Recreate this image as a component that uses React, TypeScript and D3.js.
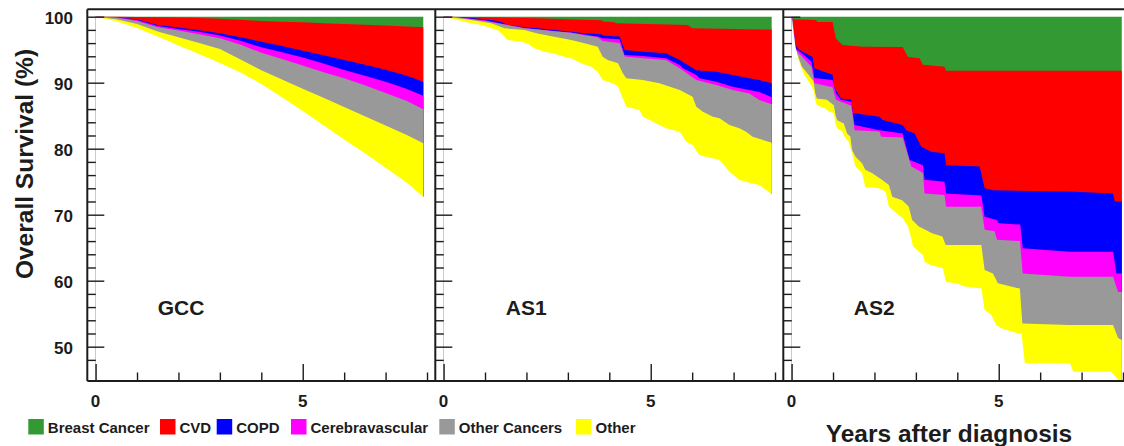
import React, { useEffect, useRef } from "react";
import * as d3 from "d3";

const panelNames = ["GCC", "AS1", "AS2"];
const causeNames = ["Breast Cancer", "CVD", "COPD", "Cerebravascular", "Other Cancers", "Other"];
const causeColors = ["#339933", "#ff0000", "#0000ff", "#ff00ff", "#999999", "#ffff00"];
const yTicks = [50, 60, 70, 80, 90, 100];
const xTicks = [0, 5];

// GCC: lower edge of each band (%), smooth curves
const gccYears = [0, 0.5, 1, 1.5, 2, 2.5, 3, 3.5, 4, 4.5, 5, 5.5, 6, 6.5, 7, 7.5, 7.91];
const gccBreast = [100, 99.99, 99.97, 99.93, 99.87, 99.8, 99.7, 99.55, 99.35, 99.25, 99.15, 99.02, 98.9, 98.78, 98.65, 98.5, 98.39];
const gccCvd = [100, 99.93, 99.6, 98.75, 98.35, 97.95, 97.5, 96.9, 96.2, 95.55, 94.85, 94.15, 93.44, 92.7, 91.95, 91.1, 90.15];
const gccCopd = [100, 99.9, 99.5, 98.6, 98.15, 97.7, 97.15, 96.35, 95.36, 94.6, 93.8, 92.9, 91.92, 91.05, 90.15, 89.1, 88.03];
const gccCere = [100, 99.85, 99.35, 98.4, 97.9, 97.35, 96.75, 95.75, 94.55, 93.6, 92.6, 91.6, 90.66, 89.6, 88.45, 87.25, 85.97];
const gccOtherCa = [100, 99.6, 98.9, 97.75, 96.9, 96.0, 95.1, 93.5, 91.9, 90.5, 89.1, 87.7, 86.3, 84.9, 83.5, 82.1, 80.82];
const gccOther = [100, 99.3, 98.3, 97.0, 95.65, 94.35, 93.0, 91.55, 89.8, 87.8, 85.7, 83.55, 81.4, 79.3, 77.1, 74.9, 72.73];

// AS1: [years, %] lower edge of each band
const as1Breast = [[0, 100], [0.5, 99.97], [1.0, 99.92], [2.0, 99.8], [2.27, 99.75], [3.0, 99.6], [3.8, 99.45], [3.88, 99.25], [4.1, 99.2], [4.17, 99.0], [5.9, 98.75], [6.0, 98.25], [7.92, 98.05]];
const as1Cvd = [[0, 100], [0.3, 99.97], [0.67, 99.8], [1.0, 99.6], [1.31, 99.35], [1.47, 99.0], [1.55, 98.74], [1.95, 98.39], [2.27, 98.24], [2.67, 97.98], [3.08, 97.73], [3.4, 97.48], [3.8, 97.33], [3.88, 97.1], [4.25, 96.98], [4.37, 94.96], [4.81, 94.7], [5.37, 94.45], [5.45, 94.2], [5.7, 93.44], [6.1, 91.9], [6.58, 91.67], [6.98, 91.17], [7.38, 90.66], [7.62, 90.4], [7.92, 89.9]];
const as1Copd = [[0, 100], [0.3, 99.95], [0.67, 99.7], [1.0, 99.45], [1.47, 98.85], [1.95, 98.3], [2.27, 98.1], [2.67, 97.85], [3.08, 97.6], [3.4, 97.3], [3.72, 97.0], [3.84, 96.75], [4.25, 96.6], [4.37, 94.2], [4.81, 94.05], [5.37, 93.69], [5.7, 92.68], [5.78, 92.18], [6.1, 91.17], [6.18, 90.66], [6.58, 90.16], [6.98, 89.4], [7.38, 88.9], [7.62, 88.6], [7.92, 87.8]];
const as1Cere = [[0, 100], [0.3, 99.9], [0.67, 99.6], [1.0, 99.35], [1.47, 98.8], [1.95, 98.25], [2.27, 98.05], [2.67, 97.8], [3.08, 97.55], [3.4, 97.2], [3.72, 96.9], [3.84, 96.3], [4.25, 95.96], [4.37, 93.95], [4.81, 93.69], [5.37, 93.44], [5.7, 92.18], [6.1, 90.4], [6.58, 89.65], [6.98, 88.9], [7.38, 88.38], [7.62, 87.37], [7.92, 86.72]];
const as1OtherCa = [[0, 100], [0.34, 99.75], [0.67, 99.5], [1.15, 98.99], [1.47, 98.23], [1.95, 97.98], [2.27, 97.47], [2.67, 96.97], [3.08, 96.46], [3.4, 95.96], [3.72, 95.45], [3.84, 93.93], [3.96, 93.43], [4.21, 92.93], [4.33, 91.41], [4.41, 90.66], [4.81, 90.4], [5.21, 89.9], [5.7, 88.89], [6.01, 87.88], [6.1, 86.36], [6.26, 85.61], [6.5, 84.85], [6.66, 84.6], [6.9, 83.59], [7.14, 83.08], [7.3, 82.58], [7.46, 81.82], [7.92, 80.9]];
const as1Other = [[0, 100], [0.34, 99.5], [0.67, 98.99], [0.91, 98.74], [1.15, 98.23], [1.31, 97.98], [1.43, 97.22], [1.55, 96.46], [1.87, 96.2], [2.03, 95.95], [2.19, 95.2], [2.43, 94.7], [2.67, 94.44], [2.91, 93.93], [3.08, 93.69], [3.32, 92.93], [3.56, 92.42], [3.72, 91.67], [3.84, 90.4], [3.96, 90.15], [4.09, 89.9], [4.21, 89.4], [4.41, 86.36], [4.73, 85.86], [4.81, 84.85], [4.97, 84.34], [5.21, 83.59], [5.37, 83.08], [5.7, 82.58], [5.86, 81.06], [6.01, 80.56], [6.17, 79.04], [6.33, 78.79], [6.66, 78.28], [6.9, 76.52], [7.14, 75.25], [7.3, 75.0], [7.42, 74.75], [7.62, 74.49], [7.92, 73.1]];

// AS2: [years, %] lower edge of each band
const as2Breast = [[0, 100], [0.04, 99.6], [0.59, 99.5], [0.62, 99.2], [0.99, 99.2], [1.07, 96.7], [1.23, 95.7], [1.72, 95.45], [2.68, 95.4], [2.81, 93.9], [3.09, 93.7], [3.17, 92.7], [3.69, 92.4], [3.73, 91.8], [7.97, 91.8]];
const as2Cvd = [[0, 100], [0.02, 99.75], [0.09, 95.7], [0.19, 94.95], [0.51, 93.9], [0.55, 92.2], [0.99, 91.2], [1.03, 89.4], [1.19, 87.6], [1.44, 87.4], [1.48, 85.4], [2.12, 84.85], [2.2, 84.35], [2.68, 83.6], [2.77, 82.8], [2.97, 82.3], [3.13, 80.3], [3.37, 79.55], [3.69, 79.3], [3.73, 77.5], [4.54, 77.3], [4.66, 74.0], [4.86, 73.7], [6.72, 73.5], [7.76, 73.2], [7.8, 72.0], [7.97, 72.0]];
const as2Copd = [[0, 100], [0.02, 99.7], [0.1, 95.2], [0.48, 93.2], [0.55, 90.7], [0.99, 90.4], [1.07, 88.4], [1.19, 87.4], [1.44, 87.1], [1.52, 83.6], [2.12, 82.8], [2.68, 82.3], [2.85, 78.3], [3.17, 77.5], [3.21, 75.3], [3.69, 75.0], [3.73, 73.2], [4.58, 72.9], [4.66, 69.7], [4.95, 69.2], [5.0, 68.7], [5.52, 68.5], [5.58, 64.9], [6.71, 64.4], [7.76, 64.4], [7.84, 61.1], [7.97, 61.1]];
const as2Cere = [[0, 100], [0.02, 99.7], [0.1, 94.95], [0.48, 92.4], [0.55, 89.9], [0.99, 89.3], [1.07, 87.4], [1.44, 86.5], [1.52, 82.8], [2.12, 82.6], [2.16, 81.8], [2.68, 81.7], [2.89, 77.3], [3.17, 76.3], [3.21, 73.2], [3.69, 73.0], [3.73, 71.2], [4.58, 71.2], [4.66, 67.7], [4.9, 67.5], [4.96, 66.2], [5.51, 66.0], [5.58, 61.1], [6.71, 60.6], [7.76, 60.6], [7.88, 58.3], [7.97, 58.3]];
const as2OtherCa = [[0, 100], [0.05, 96.0], [0.13, 94.45], [0.25, 92.4], [0.41, 91.2], [0.53, 90.2], [0.57, 88.4], [0.61, 87.6], [0.85, 87.4], [1.02, 86.6], [1.06, 85.1], [1.1, 84.3], [1.26, 83.8], [1.34, 82.3], [1.42, 81.8], [1.46, 79.8], [1.54, 78.8], [1.7, 77.8], [1.78, 76.8], [1.94, 76.3], [2.18, 75.3], [2.35, 74.5], [2.43, 72.7], [2.67, 72.2], [2.83, 71.2], [2.91, 69.2], [3.07, 68.2], [3.23, 67.7], [3.39, 67.2], [3.64, 66.7], [3.72, 65.4], [4.58, 65.4], [4.66, 61.6], [4.86, 61.1], [4.98, 59.6], [5.51, 58.8], [5.57, 53.5], [6.71, 53.3], [7.76, 53.3], [7.88, 51.3], [7.97, 51.0]];
const as2Other = [[0, 100], [0.09, 95.5], [0.17, 93.4], [0.29, 91.4], [0.41, 90.2], [0.53, 88.9], [0.57, 87.4], [0.61, 86.6], [0.82, 86.1], [0.9, 85.6], [1.02, 85.4], [1.06, 83.8], [1.1, 83.1], [1.22, 82.6], [1.3, 81.6], [1.38, 81.1], [1.46, 79.3], [1.54, 77.3], [1.7, 76.3], [1.78, 74.2], [2.1, 74.0], [2.27, 73.5], [2.35, 71.2], [2.48, 70.5], [2.68, 69.5], [2.81, 68.2], [2.89, 66.4], [2.93, 65.2], [3.17, 63.9], [3.21, 62.9], [3.33, 62.4], [3.65, 61.9], [3.73, 59.8], [3.98, 59.6], [4.18, 59.1], [4.58, 58.8], [4.66, 55.6], [4.82, 54.8], [4.94, 53.3], [5.06, 52.8], [5.47, 52.0], [5.55, 52.0], [5.63, 47.5], [6.72, 47.5], [6.8, 46.2], [7.72, 46.2], [7.9, 44.8], [7.97, 44.8]];

const gccPairs = (vals) => gccYears.map((t, i) => [t, vals[i]]);

const panelBounds = [
  [gccBreast, gccCvd, gccCopd, gccCere, gccOtherCa, gccOther].map(gccPairs),
  [as1Breast, as1Cvd, as1Copd, as1Cere, as1OtherCa, as1Other],
  [as2Breast, as2Cvd, as2Copd, as2Cere, as2OtherCa, as2Other],
];

const W = 1124;
const H = 446;
const plotTop = 9.3;
const plotBottom = 381;
const panelLefts = [87.3, 435.3, 783.3];
const panelWidth = 348;
const legendX = [28.3, 160, 216.7, 291, 439.3, 576];
const FONT = "'Liberation Sans', Arial, Helvetica, sans-serif";
const INK = "#1c1c1c";

export default function App() {
  const ref = useRef(null);

  useEffect(() => {
    const svg = d3.select(ref.current);
    svg.selectAll("*").remove();

    const y = d3.scaleLinear().domain([44.8, 101.12]).range([plotBottom, plotTop]);
    const yMin = y.domain()[0];

    panelBounds.forEach((bounds, i) => {
      const x = d3.scaleLinear()
        .domain([-0.2, 8.2])
        .range([panelLefts[i], panelLefts[i] + panelWidth]);
      const g = svg.append("g");

      const area = d3.area()
        .x((d) => x(d[0]))
        .y0(y(yMin))
        .y1((d) => y(d[1]));

      const survival = bounds[5];
      const last = survival[survival.length - 1];
      const tEnd = last[0];
      const tops = [[[0, 100], [tEnd, 100]], ...bounds.slice(0, 5)];

      // painter's order: each band from its upper edge down, then white under survival
      tops.forEach((top, k) => {
        g.append("path").attr("d", area(top)).attr("fill", causeColors[k]);
      });
      // white cover runs a hair past the data end so no coloured edge shows below survival
      g.append("path")
        .attr("d", area([...survival, [tEnd + 0.06, last[1]]]))
        .attr("fill", "#ffffff");

      // left axis ticks (pointing inward)
      const yMajor = d3.axisRight(y).tickValues(yTicks).tickSize(17).tickFormat(() => "");
      const yMinor = d3.axisRight(y).tickValues(d3.range(48, 100, 2).filter((v) => v % 10 !== 0)).tickSize(8.5).tickFormat(() => "");
      [yMajor, yMinor].forEach((ax) => {
        const a = g.append("g").attr("transform", `translate(${panelLefts[i]},0)`).call(ax);
        a.select(".domain").remove();
        a.selectAll("line").attr("stroke", INK).attr("stroke-width", 1.4);
      });

      // bottom axis ticks
      const xMajor = d3.axisTop(x).tickValues(xTicks).tickSize(17).tickFormat(() => "");
      const xMinor = d3.axisTop(x).tickValues([1, 2, 3, 4, 6, 7, 8]).tickSize(8.5).tickFormat(() => "");
      [xMajor, xMinor].forEach((ax) => {
        const a = g.append("g").attr("transform", `translate(0,${plotBottom})`).call(ax);
        a.select(".domain").remove();
        a.selectAll("line").attr("stroke", INK).attr("stroke-width", 1.4);
      });

      g.selectAll(".xlab")
        .data(xTicks)
        .join("text")
        .attr("x", (d) => x(d))
        .attr("y", 406.5)
        .attr("text-anchor", "middle")
        .attr("font-family", FONT)
        .attr("font-weight", "bold")
        .attr("font-size", 17)
        .attr("fill", INK)
        .text((d) => d);

      // left border of the panel
      g.append("line")
        .attr("x1", panelLefts[i]).attr("x2", panelLefts[i])
        .attr("y1", plotTop).attr("y2", plotBottom)
        .attr("stroke", INK).attr("stroke-width", 2);

      g.append("text")
        .attr("x", x(1.5))
        .attr("y", 315)
        .attr("font-family", FONT)
        .attr("font-weight", "bold")
        .attr("font-size", 21)
        .attr("fill", INK)
        .text(panelNames[i]);
    });

    // frame top/bottom
    svg.append("line").attr("x1", panelLefts[0]).attr("x2", W).attr("y1", plotTop).attr("y2", plotTop)
      .attr("stroke", INK).attr("stroke-width", 2);
    svg.append("line").attr("x1", panelLefts[0]).attr("x2", W).attr("y1", plotBottom).attr("y2", plotBottom)
      .attr("stroke", INK).attr("stroke-width", 2);

    // y tick labels
    svg.selectAll(".ylab")
      .data(yTicks)
      .join("text")
      .attr("x", 73)
      .attr("y", (d) => y(d) + 7)
      .attr("text-anchor", "end")
      .attr("font-family", FONT)
      .attr("font-weight", "bold")
      .attr("font-size", 17)
      .attr("fill", INK)
      .text((d) => d);

    svg.append("text")
      .attr("transform", `translate(33,164) rotate(-90)`)
      .attr("text-anchor", "middle")
      .attr("font-family", FONT)
      .attr("font-weight", "bold")
      .attr("font-size", 24.5)
      .attr("fill", INK)
      .text("Overall Survival (%)");

    svg.append("text")
      .attr("x", 949)
      .attr("y", 441.5)
      .attr("text-anchor", "middle")
      .attr("font-family", FONT)
      .attr("font-weight", "bold")
      .attr("font-size", 24.5)
      .attr("fill", INK)
      .text("Years after diagnosis");

    // legend
    const leg = svg.selectAll(".leg").data(causeNames).join("g")
      .attr("transform", (d, k) => `translate(${legendX[k]},419)`);
    leg.append("rect").attr("width", 15.5).attr("height", 15.5)
      .attr("fill", (d, k) => causeColors[k]);
    leg.append("text")
      .attr("x", 19.5)
      .attr("y", 13.5)
      .attr("font-family", FONT)
      .attr("font-weight", "bold")
      .attr("font-size", 15)
      .attr("fill", INK)
      .text((d) => d);
  }, []);

  return (
    <svg
      ref={ref}
      width={W}
      height={H}
      style={{ position: "absolute", left: 0, top: 0, background: "#fff" }}
    />
  );
}
